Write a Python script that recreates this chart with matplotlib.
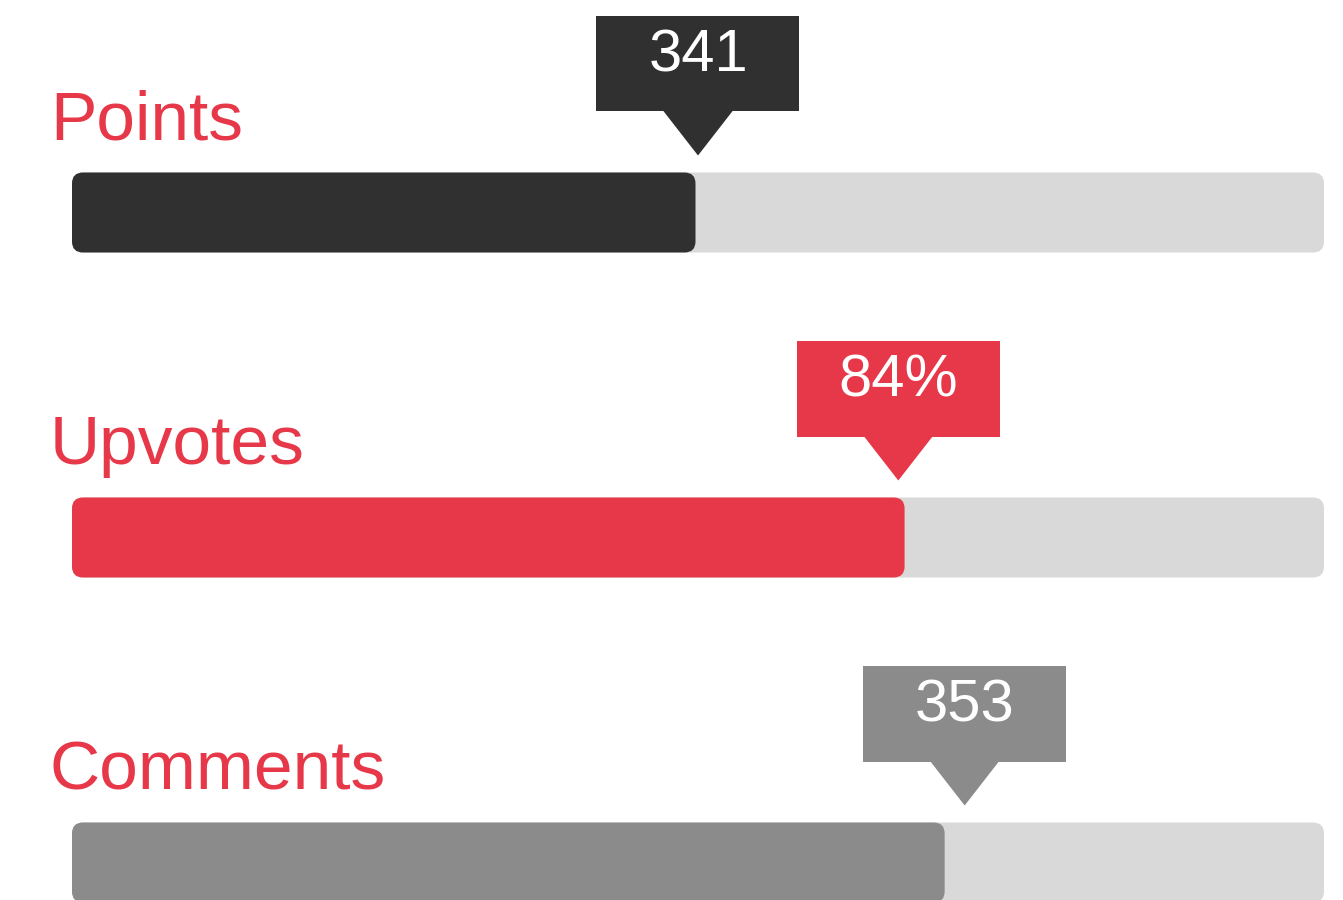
import matplotlib.pyplot as plt
from matplotlib.patches import FancyBboxPatch, Rectangle, Polygon

# data
labels = ["Points", "Upvotes", "Comments"]
value_text = ["341", "84%", "353"]
fill = [0.498, 0.665, 0.697]    # share of the track that is filled
marker = [0.500, 0.660, 0.713]  # where the callout points to (same scale)

# colours
bar_colors = ["#303030", "#e73849", "#8b8b8b"]
track_color = "#d9d9d9"
label_color = "#e73849"

plt.rcParams['font.family'] = ['Liberation Sans', 'DejaVu Sans']

# scale: 1 x unit = track width (1252 px), 1 y unit = row pitch (325 px)
UX = 1252.0
UY = 325.0


def px_x(p):
    return p / UX


def px_y(p):
    return p / UY


fig = plt.figure(figsize=(13.43, 9), dpi=100)
ax = fig.add_axes([0, 0, 1, 1])
ax.set_xlim(-72 / UX, (1343 - 72) / UX)
ax.set_ylim((900 - 212.5) / UY, -212.5 / UY)
ax.axis('off')

bar_h = px_y(80)
rad = px_x(11)
aspect = UX / UY

for i, (lab, txt, f, m, col) in enumerate(zip(labels, value_text, fill, marker, bar_colors)):
    top = i - bar_h / 2

    # background track
    ax.add_patch(FancyBboxPatch((0, top), 1, bar_h,
                                boxstyle=f"round,pad=0,rounding_size={rad}",
                                mutation_aspect=aspect, fc=track_color, ec='none'))
    # filled part
    ax.add_patch(FancyBboxPatch((0, top), f, bar_h,
                                boxstyle=f"round,pad=0,rounding_size={rad}",
                                mutation_aspect=aspect, fc=col, ec='none'))

    # callout box + pointer
    bw = px_x(203)
    box_top = top - px_y(157)
    box_bot = top - px_y(61)
    ax.add_patch(Rectangle((m - bw / 2, box_top), bw, box_bot - box_top,
                           fc=col, ec='none'))
    tw = px_x(35)
    ax.add_patch(Polygon([(m - tw, box_bot - px_y(1)), (m + tw, box_bot - px_y(1)),
                          (m, top - px_y(17))], closed=True, fc=col, ec='none'))
    ax.text(m, box_top + px_y(56), txt, color='white', fontsize=43,
            ha='center', va='baseline')

    # row label
    ax.text(px_x(-22), top - px_y(33), lab, color=label_color, fontsize=50,
            ha='left', va='baseline')

fig.savefig("out.png", dpi=100)
